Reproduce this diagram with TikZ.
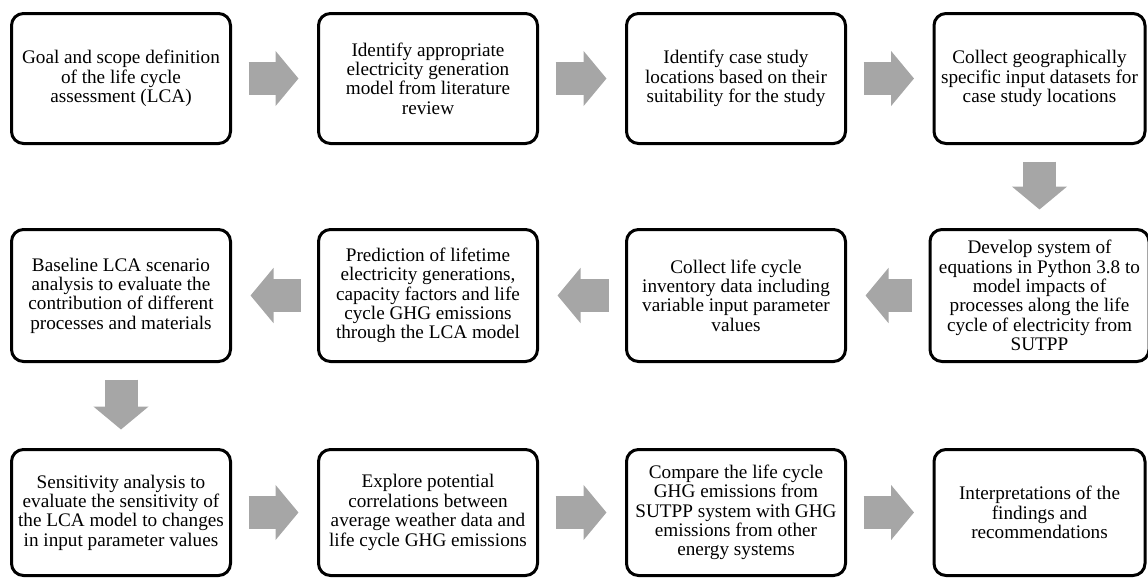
\documentclass[tikz,border=0pt]{standalone}
\usepackage{fontspec}
\setmainfont{Liberation Serif}
\usetikzlibrary{arrows.meta}
\definecolor{arrowgray}{RGB}{166,166,166}
\tikzset{
  stepbox/.style={draw=black, line width=3pt, rounded corners=12pt, fill=white,
    minimum width=219pt, minimum height=130pt, outer sep=0pt, inner sep=0pt,
    align=center, font=\fontsize{19.2}{19.4}\selectfont},
  bigarrow/.style={draw=arrowgray, line width=33pt,
    -{Triangle[length=23pt, width=54pt, fill=arrowgray]},
    shorten <=18pt, shorten >=20pt}
}
\begin{document}
\begin{tikzpicture}[x=1pt,y=-1pt]
\useasboundingbox (0,0) rectangle (1148,579);
% row 1
\node[stepbox] (b1) at (121,78.5) {Goal and scope definition\\of the life cycle\\assessment (LCA)};
\node[stepbox] (b2) at (428,78.5) {Identify appropriate\\electricity generation\\model from literature\\review};
\node[stepbox] (b3) at (736,78.5) {Identify case study\\locations based on their\\suitability for the study};
\node[stepbox, minimum width=211pt] (b4) at (1039.5,78.5) {Collect geographically\\specific input datasets for\\case study locations};
% row 2
\node[stepbox, minimum height=132pt] (b8) at (1039.5,295.5) {Develop system of\\equations in Python 3.8 to\\model impacts of\\processes along the life\\cycle of electricity from\\SUTPP};
\node[stepbox, minimum height=132pt] (b7) at (736,295.5) {Collect life cycle\\inventory data including\\variable input parameter\\values};
\node[stepbox, minimum height=132pt] (b6) at (428,295.5) {Prediction of lifetime\\electricity generations,\\capacity factors and life\\cycle GHG emissions\\through the LCA model};
\node[stepbox, minimum height=132pt] (b5) at (121,295.5) {Baseline LCA scenario\\analysis to evaluate the\\contribution of different\\processes and materials};
% row 3
\node[stepbox, minimum height=126pt] (b9) at (121,512.5) {Sensitivity analysis to\\evaluate the sensitivity of\\the LCA model to changes\\in input parameter values};
\node[stepbox, minimum height=126pt] (b10) at (428,512.5) {Explore potential\\correlations between\\average weather data and\\life cycle GHG emissions};
\node[stepbox, minimum height=126pt] (b11) at (736,512.5) {Compare the life cycle\\GHG emissions from\\SUTPP system with GHG\\emissions from other\\energy systems};
\node[stepbox, minimum height=126pt, minimum width=211pt] (b12) at (1039.5,512.5) {Interpretations of the\\findings and\\recommendations};
% arrows
\draw[bigarrow] (b1) -- (b2);
\draw[bigarrow] (b2) -- (b3);
\draw[bigarrow] (b3) -- (b4);
\draw[bigarrow] (b4) -- (b8);
\draw[bigarrow] (b8) -- (b7);
\draw[bigarrow] (b7) -- (b6);
\draw[bigarrow] (b6) -- (b5);
\draw[bigarrow] (b5) -- (b9);
\draw[bigarrow] (b9) -- (b10);
\draw[bigarrow] (b10) -- (b11);
\draw[bigarrow] (b11) -- (b12);
\end{tikzpicture}
\end{document}
